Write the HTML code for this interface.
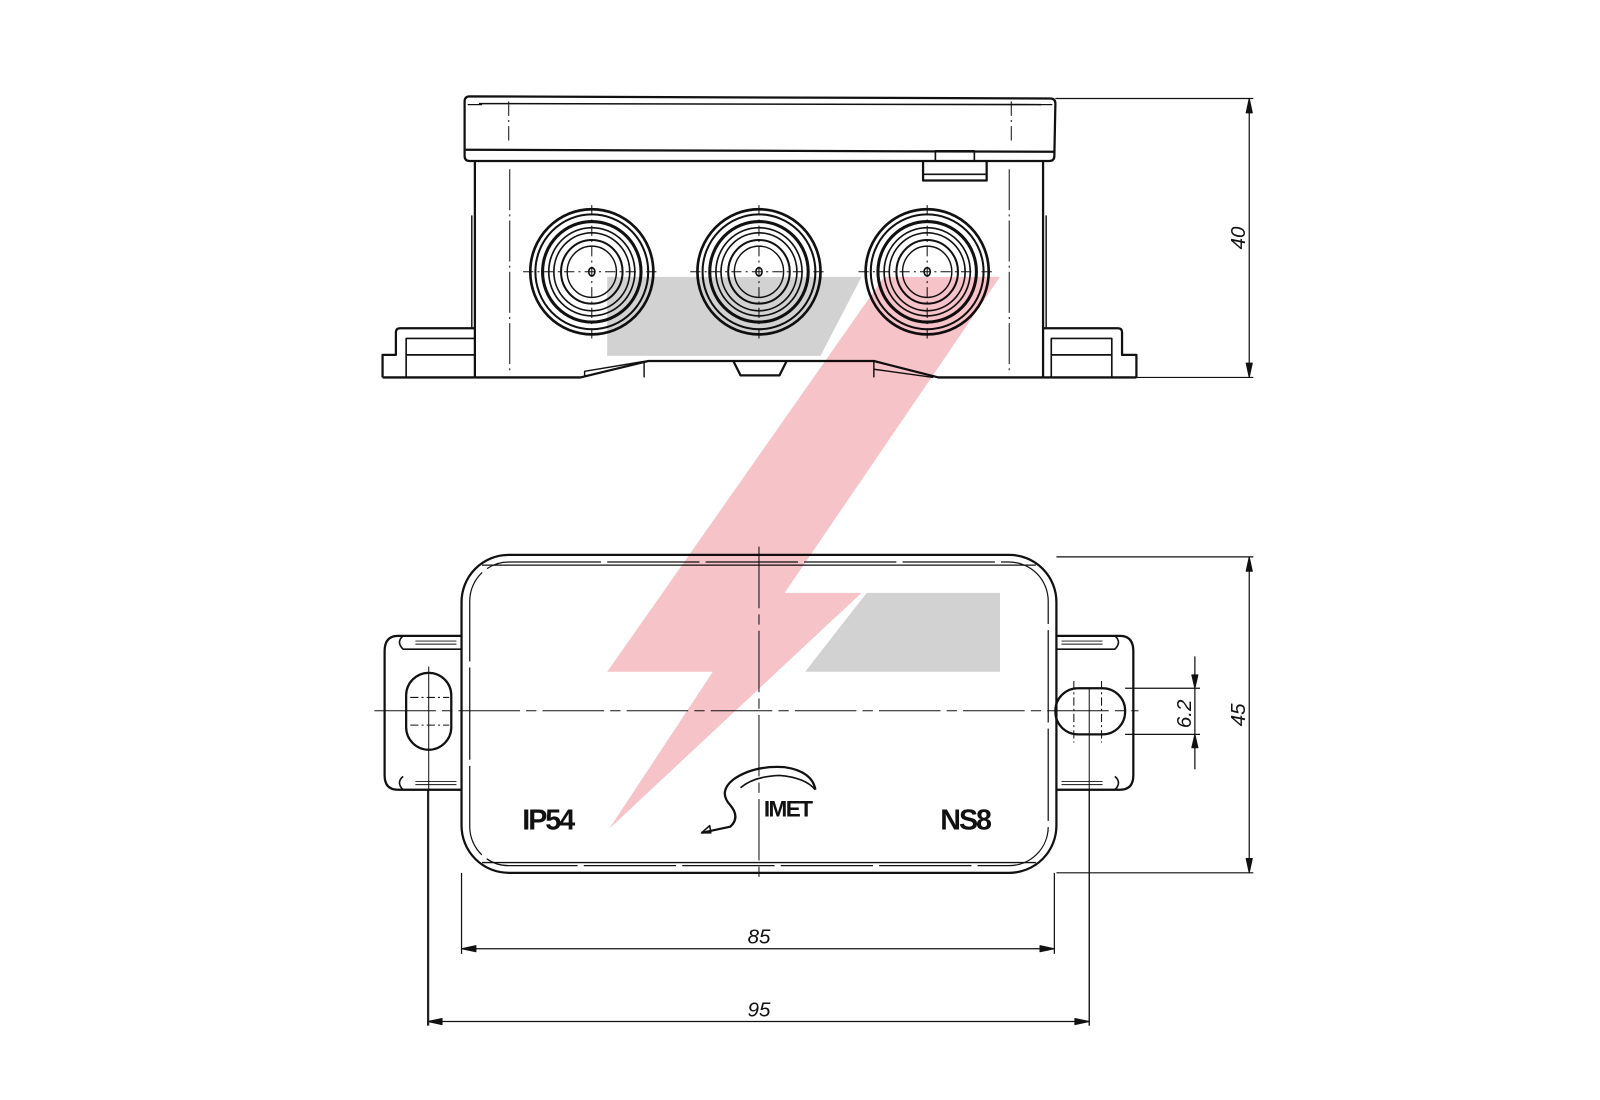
<!DOCTYPE html>
<html><head><meta charset="utf-8"><style>
html,body{margin:0;padding:0;background:#fff;width:1600px;height:1100px;overflow:hidden}
svg{display:block}
text{font-family:"Liberation Sans",sans-serif}
</style></head><body>
<svg width="1600" height="1100" viewBox="0 0 1560 1072.5" xmlns="http://www.w3.org/2000/svg">
<g fill="none" stroke="#111" stroke-width="2.2" stroke-linejoin="round">
<path d="M458,94 L1024,96 Q1029,96 1029,101 L1028,152 Q1028,157 1023,157 L458,157 Q453,157 453,152 L453,99 Q453,94 458,94 Z"/>
<line x1="454" y1="146" x2="1028" y2="148"/>
<line x1="467" y1="101" x2="1015" y2="102" stroke-width="1.5"/>
<line x1="456" y1="102" x2="470" y2="102" stroke-width="1.2"/>
<line x1="1012" y1="102" x2="1026" y2="102" stroke-width="1.2"/>
<line x1="496" y1="99" x2="496" y2="140" stroke-width="1" stroke-dasharray="14,4,2,4"/>
<line x1="986" y1="99" x2="986" y2="140" stroke-width="1" stroke-dasharray="14,4,2,4"/>
<rect x="912" y="147" width="38" height="10" stroke-width="1.6"/>
<path d="M900,157 L900,176 L962,176 L962,157" />
<line x1="900" y1="170" x2="962" y2="170" stroke-width="1.6"/>
<path d="M463,157 L463,368 M1017,157 L1017,368"/>
<line x1="497" y1="165" x2="497" y2="362" stroke-width="1" stroke-dasharray="40,4,2,4"/>
<line x1="984" y1="165" x2="984" y2="362" stroke-width="1" stroke-dasharray="40,4,2,4"/>
<path d="M460,210 L460,320 M1020,210 L1020,320" stroke-width="1.4"/>
<path d="M373,368 L373,346 L386,346 L386,324 Q386,320 390,320 L463,320"/>
<path d="M396,368 L396,330 L463,330 M396,346 L463,346" stroke-width="1.6"/>
<line x1="373" y1="368" x2="463" y2="368"/>
<path d="M1108,368 L1108,346 L1094,346 L1094,324 Q1094,320 1090,320 L1017,320"/>
<path d="M1084,368 L1084,330 L1025,330 L1025,368 M1025,346 L1084,346" stroke-width="1.6"/>
<line x1="1017" y1="368" x2="1108" y2="368"/>
<path d="M463,368 L566,368 L632,352 L852,352 L915,368 L1017,368"/>
<path d="M570,368 L570,362 L630,352 M628,353 L628,368 M852,352 L852,368 M852,360 L910,368" stroke-width="1.4"/>
<path d="M715,352 L722,366 L760,366 L767,352" />
<g id="g1">
<ellipse cx="577" cy="265" rx="60" ry="61" stroke-width="2.6"/>
<ellipse cx="577" cy="265" rx="55" ry="56" stroke-width="2"/>
<ellipse cx="577" cy="265" rx="48" ry="49" stroke-width="3"/>
<ellipse cx="577" cy="265" rx="42" ry="43" stroke-width="1.6"/>
<ellipse cx="577" cy="265" rx="37" ry="38" stroke-width="1.6"/>
<ellipse cx="577" cy="265" rx="30" ry="31" stroke-width="2"/>
<ellipse cx="577" cy="265" rx="24" ry="25" stroke-width="1.4"/>
<ellipse cx="577" cy="265" rx="3" ry="4" stroke-width="1.6"/>
<line x1="510" y1="265" x2="644" y2="265" stroke-width="1" stroke-dasharray="10,4,2,4"/>
<line x1="577" y1="200" x2="577" y2="330" stroke-width="1" stroke-dasharray="10,4,2,4"/>
</g>
<use href="#g1" x="163"/>
<use href="#g1" x="327"/>
<path d="M1029,96 L1222,96 M1108,368 L1222,368 M1218,96 L1218,368" stroke-width="1.2"/>
<path d="M1218,96 l-3,14 l6,0 Z M1218,368 l-3,-14 l6,0 Z" fill="#111" stroke-width="1"/>

<rect x="450" y="541" width="580" height="310" rx="46" ry="46"/>
<rect x="458" y="548" width="564" height="296" rx="38" ry="38" stroke-width="1.2" stroke-dasharray="90,6"/>
<line x1="470" y1="551" x2="1010" y2="551" stroke-width="1.3"/>
<line x1="470" y1="841" x2="1010" y2="841" stroke-width="1.3"/>
<path d="M450,620 L388,620 Q375,620 375,635 L375,756 Q375,770 388,770 L450,770"/>
<path d="M393,620 Q386,626 393,633 L450,633 M393,757 Q386,763 393,770 L450,770" stroke-width="1.6"/>
<path d="M405,625 L445,625 M405,628 L445,628 M405,762 L445,762 M405,765 L445,765" stroke-width="0.9"/>
<rect x="396" y="656" width="44" height="75" rx="22" ry="22"/>
<path d="M400,680 L438,680 M400,707 L438,707" stroke-width="1" stroke-dasharray="8,3,2,3"/>
<line x1="418" y1="650" x2="418" y2="1000" stroke-width="1"/>
<path d="M1030,620 L1092,620 Q1105,620 1105,635 L1105,756 Q1105,770 1092,770 L1030,770"/>
<path d="M1087,620 Q1094,626 1087,633 L1030,633 M1087,757 Q1094,763 1087,770 L1030,770" stroke-width="1.6"/>
<path d="M1035,625 L1075,625 M1035,628 L1075,628 M1035,762 L1075,762 M1035,765 L1075,765" stroke-width="0.9"/>
<rect x="1029" y="671" width="68" height="45" rx="22" ry="22"/>
<path d="M1047,664 L1047,724 M1074,664 L1074,724" stroke-width="1" stroke-dasharray="8,3,2,3"/>
<line x1="1062" y1="671" x2="1062" y2="1000" stroke-width="1"/>
<line x1="365" y1="693" x2="1110" y2="693" stroke-width="1" stroke-dasharray="60,6,10,6"/>
<line x1="740" y1="533" x2="740" y2="858" stroke-width="1" stroke-dasharray="60,6,10,6"/>
<path d="M1030,543 L1222,543 M1030,851 L1222,851 M1218,543 L1218,851" stroke-width="1.2"/>
<path d="M1218,543 l-3,14 l6,0 Z M1218,851 l-3,-14 l6,0 Z" fill="#111" stroke-width="1"/>
<path d="M1097,671 L1170,671 M1097,716 L1170,716 M1165,640 L1165,750" stroke-width="1.2"/>
<path d="M1165,671 l-3,-13 l6,0 Z M1165,716 l-3,13 l6,0 Z" fill="#111" stroke-width="1"/>
<path d="M450,851 L450,930 M1028,851 L1028,930 M450,925 L1028,925" stroke-width="1.2"/>
<path d="M450,925 l14,-3 l0,6 Z M1028,925 l-14,-3 l0,6 Z" fill="#111" stroke-width="1"/>
<path d="M417,770 L417,1000 M1062,770 L1062,1000 M417,996 L1062,996" stroke-width="1.2"/>
<path d="M417,996 l14,-3 l0,6 Z M1062,996 l-14,-3 l0,6 Z" fill="#111" stroke-width="1"/>
<!-- logo S swoosh -->
<path d="M795,770 Q792,752 765,748 Q735,746 715,760 Q700,772 712,785 Q722,797 712,806 L684,812" stroke-width="2.2"/>
<path d="M795,770 Q785,758 760,756 Q735,757 722,768" stroke-width="1.6"/>
<path d="M684,812 l8,-7 l1,7 Z" stroke-width="1.5"/>
</g>
<g fill="#111">
<text x="1214" y="232" font-size="20" font-style="italic" transform="rotate(-90 1214 232)" text-anchor="middle">40</text>
<text x="1214" y="697" font-size="20" font-style="italic" transform="rotate(-90 1214 697)" text-anchor="middle">45</text>
<text x="1161" y="696" font-size="20" font-style="italic" transform="rotate(-90 1161 696)" text-anchor="middle">6.2</text>
<text x="740" y="920" font-size="20" font-style="italic" text-anchor="middle">85</text>
<text x="740" y="991" font-size="20" font-style="italic" text-anchor="middle">95</text>
<text x="534" y="809" font-size="28" font-weight="bold" text-anchor="middle" letter-spacing="-2">IP54</text>
<text x="941" y="809" font-size="28" font-weight="bold" text-anchor="middle" letter-spacing="-2">NS8</text>
<text x="768" y="796" font-size="22" font-weight="bold" text-anchor="middle" letter-spacing="-1.5">IMET</text>
</g>
<g style="mix-blend-mode:multiply">
<polygon points="592,270 840,270 800,347 592,347" fill="#d2d2d2"/>
<polygon points="845,578 975,578 975,655 785,655" fill="#d2d2d2"/>
<polygon points="862,270 975,270 765,578 840,578 594,808 695,655 592,655" fill="#f6c3c8"/>
</g>
</svg>
</body></html>
